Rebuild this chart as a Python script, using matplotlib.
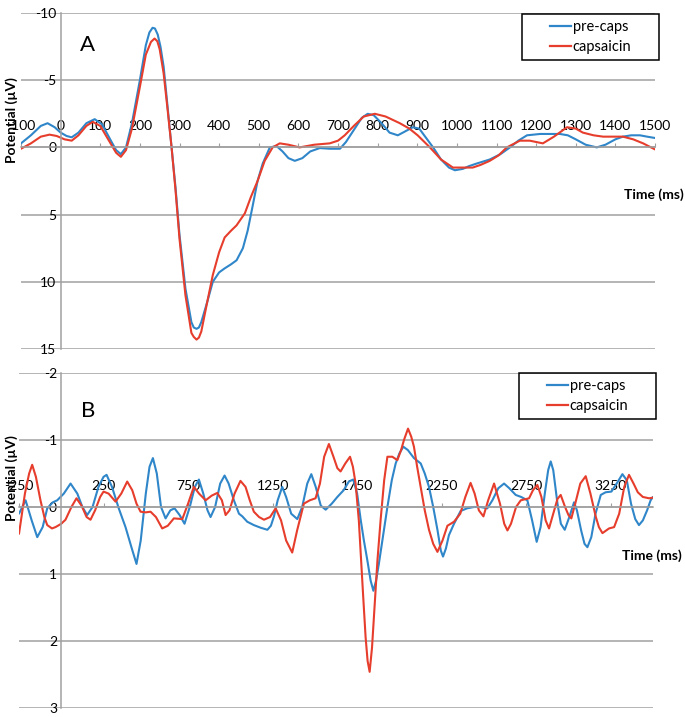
import matplotlib
matplotlib.use("Agg")
import matplotlib.pyplot as plt
from matplotlib.patches import Rectangle
from matplotlib.lines import Line2D

plt.rcParams['font.family'] = ['Lato', 'DejaVu Sans']
plt.rcParams['axes.unicode_minus'] = False

BLUE = '#2f86c9'
RED = '#e63d2c'
GRID = '#a0a0a0'

# panel A: time (ms) / potential (uV), negative plotted upwards
a_pre_t = [-100, -75, -50, -33, -15, 0, 15, 28, 45, 65, 86, 105, 125, 140, 152, 165, 180, 200, 215, 224,
           232, 238, 245, 252, 260, 270, 280, 290, 300, 315, 330, 336, 343, 349, 355, 370, 384, 400, 414,
           430, 444, 460, 472, 485, 497, 510, 528, 545, 560, 575, 591, 610, 630, 654, 680, 705, 720, 740,
           760, 775, 790, 810, 830, 851, 870, 889, 905, 920, 940, 960, 980, 995, 1015, 1030, 1050, 1083,
           1110, 1134, 1155, 1177, 1210, 1240, 1260, 1280, 1300, 1325, 1353, 1375, 1400, 1419, 1440, 1462,
           1480, 1500]
a_pre = [-0.3, -0.9, -1.6, -1.8, -1.5, -1.1, -0.85, -0.75, -1.1, -1.8, -2.1, -1.7, -0.6, 0.2, 0.5, 0.0,
         -1.8, -5.0, -7.6, -8.55, -8.9, -8.85, -8.4, -7.5, -6.0, -3.0, 0.0, 3.0, 6.5, 10.5, 13.0, 13.4,
         13.5, 13.4, 13.0, 11.5, 10.0, 9.3, 9.0, 8.7, 8.4, 7.5, 6.2, 4.3, 2.5, 1.2, 0.0, -0.1, 0.3, 0.8,
         1.0, 0.8, 0.3, 0.05, 0.1, 0.1, -0.4, -1.3, -2.2, -2.5, -2.4, -1.8, -1.1, -0.9, -1.2, -1.5, -1.4,
         -0.8, 0.0, 0.9, 1.5, 1.7, 1.6, 1.4, 1.2, 0.9, 0.5, 0.0, -0.5, -0.9, -1.0, -1.0, -1.0, -0.9, -0.6,
         -0.2, 0.0, -0.2, -0.6, -0.8, -0.9, -0.9, -0.8, -0.7]

a_caps_t = [-100, -75, -50, -28, -10, 10, 28, 45, 65, 81, 100, 120, 140, 152, 165, 180, 200, 215, 228, 237,
            244, 250, 260, 270, 280, 290, 300, 315, 330, 336, 343, 349, 355, 370, 384, 400, 414, 430, 444,
            465, 480, 497, 515, 535, 553, 575, 603, 640, 679, 700, 717, 740, 765, 793, 820, 856, 880, 901,
            932, 960, 990, 1015, 1040, 1060, 1083, 1105, 1126, 1159, 1184, 1217, 1245, 1278, 1300, 1318,
            1345, 1369, 1395, 1419, 1445, 1470, 1500]
a_caps = [0.1, -0.3, -0.8, -0.95, -0.85, -0.6, -0.5, -0.9, -1.6, -1.9, -1.6, -0.6, 0.4, 0.7, 0.2, -1.4,
          -4.5, -6.9, -7.85, -8.1, -7.9, -7.3, -5.5, -2.8, 0.0, 3.2, 6.8, 11.0, 13.8, 14.1, 14.3, 14.15,
          13.7, 11.5, 9.5, 7.8, 6.7, 6.2, 5.8, 4.9, 3.7, 2.5, 1.0, 0.0, -0.3, -0.2, 0.0, -0.2, -0.3, -0.5,
          -0.9, -1.6, -2.3, -2.5, -2.3, -1.8, -1.4, -0.9, 0.0, 0.9, 1.5, 1.5, 1.5, 1.3, 1.0, 0.6, 0.0,
          -0.5, -0.5, -0.3, -0.8, -1.5, -1.4, -1.1, -0.9, -0.8, -0.8, -0.8, -0.6, -0.3, 0.15]

# panel B
b_pre_t = [-250, -211, -175, -142, -110, -83, -50, -24, 15, 55, 95, 125, 153, 185, 220, 250, 268, 300, 340,
           380, 415, 445, 470, 500, 522, 542, 565, 590, 617, 645, 670, 700, 729, 760, 790, 814, 840, 865,
           883, 910, 940, 966, 990, 1021, 1051, 1071, 1100, 1139, 1180, 1219, 1240, 1258, 1280, 1307, 1330,
           1360, 1396, 1425, 1455, 1479, 1505, 1535, 1564, 1600, 1633, 1670, 1701, 1727, 1750, 1771, 1790,
           1810, 1830, 1846, 1862, 1879, 1905, 1929, 1955, 1978, 2000, 2023, 2050, 2086, 2126, 2150, 2175,
           2200, 2225, 2245, 2258, 2275, 2293, 2323, 2362, 2400, 2441, 2480, 2520, 2550, 2585, 2619, 2650,
           2688, 2720, 2757, 2785, 2812, 2835, 2860, 2880, 2895, 2910, 2935, 2955, 2978, 3005, 3033, 3050,
           3075, 3095, 3112, 3135, 3160, 3191, 3220, 3254, 3285, 3319, 3345, 3370, 3395, 3417, 3440, 3465,
           3486, 3500]
b_pre = [0.1, -0.1, 0.2, 0.45, 0.3, 0.02, -0.07, -0.1, -0.2, -0.35, -0.2, 0.0, 0.12, 0.0, -0.3, -0.45,
         -0.48, -0.3, 0.02, 0.3, 0.6, 0.85, 0.5, -0.2, -0.6, -0.73, -0.5, 0.0, 0.17, 0.05, 0.02, 0.12, 0.25,
         0.0, -0.3, -0.41, -0.2, 0.05, 0.15, 0.0, -0.35, -0.47, -0.35, -0.1, 0.1, 0.14, 0.22, 0.27, 0.31,
         0.34, 0.28, 0.14, -0.1, -0.3, -0.15, 0.1, 0.18, 0.0, -0.35, -0.49, -0.3, -0.02, 0.04, -0.05,
         -0.15, -0.25, -0.38, -0.41, -0.2, 0.19, 0.5, 0.79, 1.1, 1.25, 1.1, 0.84, 0.4, 0.0, -0.4, -0.65,
         -0.8, -0.9, -0.85, -0.73, -0.65, -0.5, -0.3, 0.0, 0.34, 0.65, 0.74, 0.62, 0.42, 0.25, 0.06, 0.02,
         0.0, 0.0, 0.02, -0.1, -0.28, -0.35, -0.28, -0.18, -0.15, -0.1, 0.2, 0.52, 0.3, -0.2, -0.55, -0.68,
         -0.55, -0.05, 0.25, 0.34, 0.15, -0.07, 0.05, 0.35, 0.55, 0.6, 0.45, 0.1, -0.18, -0.22, -0.23,
         -0.35, -0.49, -0.4, -0.05, 0.18, 0.27, 0.2, 0.05, -0.1, -0.15]

b_caps_t = [-250, -215, -190, -172, -150, -123, -100, -83, -55, -34, 0, 25, 60, 90, 120, 150, 173, 200, 230,
            250, 280, 321, 355, 390, 420, 445, 469, 500, 528, 560, 597, 630, 666, 716, 750, 784, 815, 854,
            890, 923, 950, 972, 995, 1025, 1060, 1090, 1115, 1139, 1170, 1199, 1235, 1268, 1300, 1330, 1366,
            1395, 1435, 1470, 1504, 1530, 1555, 1583, 1610, 1633, 1652, 1680, 1708, 1725, 1741, 1760, 1771,
            1785, 1800, 1812, 1824, 1838, 1853, 1870, 1889, 1910, 1929, 1958, 1988, 2010, 2027, 2051, 2070,
            2086, 2105, 2126, 2150, 2175, 2200, 2225, 2255, 2284, 2323, 2360, 2390, 2421, 2445, 2470, 2497,
            2525, 2560, 2595, 2620, 2639, 2660, 2690, 2718, 2767, 2790, 2816, 2840, 2865, 2885, 2910, 2935,
            2954, 2980, 3000, 3017, 3040, 3070, 3102, 3130, 3161, 3180, 3201, 3240, 3270, 3300, 3330, 3358,
            3385, 3410, 3440, 3477, 3500]
b_caps = [0.4, -0.2, -0.5, -0.63, -0.45, -0.1, 0.15, 0.27, 0.32, 0.3, 0.25, 0.19, 0.0, -0.13, -0.02, 0.15,
          0.19, 0.05, -0.15, -0.23, -0.2, -0.08, -0.2, -0.38, -0.25, -0.05, 0.07, 0.08, 0.07, 0.15, 0.32,
          0.28, 0.17, 0.18, -0.05, -0.3, -0.2, -0.1, -0.17, -0.21, -0.1, 0.12, 0.05, -0.2, -0.39, -0.3,
          -0.1, 0.07, 0.15, 0.19, 0.15, 0.02, 0.2, 0.5, 0.68, 0.35, -0.05, -0.1, -0.13, -0.35, -0.75, -0.94,
          -0.75, -0.58, -0.53, -0.65, -0.75, -0.6, -0.35, 0.2, 0.69, 1.3, 1.94, 2.3, 2.46, 2.1, 1.49, 0.8,
          0.19, -0.4, -0.75, -0.75, -0.7, -0.85, -1.0, -1.17, -1.05, -0.9, -0.6, -0.3, 0.05, 0.34, 0.55,
          0.67, 0.5, 0.28, 0.22, 0.1, -0.15, -0.36, -0.2, 0.05, 0.14, -0.1, -0.35, -0.05, 0.25, 0.35, 0.25,
          0.0, -0.1, -0.13, -0.25, -0.33, -0.15, 0.2, 0.32, 0.1, -0.12, -0.18, 0.0, 0.12, 0.17, -0.05,
          -0.35, -0.46, -0.2, 0.14, 0.3, 0.39, 0.32, 0.3, 0.1, -0.3, -0.48, -0.35, -0.22, -0.15, -0.13,
          -0.14]

a_xticks = list(range(-100, 1501, 100))
a_yticks = [-10, -5, 0, 5, 10, 15]
b_xticks = [-250, 250, 750, 1250, 1750, 2250, 2750, 3250]
b_yticks = [-2, -1, 0, 1, 2, 3]
series_names = ['pre-caps', 'capsaicin']

W, H = 685, 717
fig = plt.figure(figsize=(W / 100, H / 100), dpi=100)


def px_axes(x0, y0, x1, y1):
    return fig.add_axes([x0 / W, 1 - y1 / H, (x1 - x0) / W, (y1 - y0) / H])


def style_panel(ax, xlim, ylim, xticks, yticks):
    ax.set_xlim(*xlim)
    ax.set_ylim(*ylim)
    for s in ['bottom', 'right']:
        ax.spines[s].set_visible(False)
    ax.spines['left'].set_position(('data', 0))
    ax.spines['top'].set_position(('data', 0))
    for s in ['left', 'top']:
        ax.spines[s].set_color(GRID)
        ax.spines[s].set_linewidth(1.1)
    ax.xaxis.tick_top()
    ax.set_xticks(xticks)
    ax.set_xticklabels([str(t) for t in xticks])
    ax.set_yticks(yticks)
    ax.set_yticklabels([str(t) for t in yticks])
    ax.tick_params(axis='x', direction='out', length=3, color=GRID, pad=8, labelsize=10)
    ax.tick_params(axis='y', length=0, pad=3, labelsize=10)
    ax.yaxis.grid(True, color=GRID, linewidth=1.1)
    ax.set_axisbelow(True)
    ax.patch.set_visible(False)


def legend_box(x0, y0, x1, y1):
    fig.patches.append(Rectangle((x0 / W, 1 - y1 / H), (x1 - x0) / W, (y1 - y0) / H,
                                 transform=fig.transFigure, fill=False, edgecolor='black', linewidth=1.1))
    handles = [Line2D([], [], color=BLUE, lw=1.6), Line2D([], [], color=RED, lw=1.6)]
    fig.legend(handles, series_names, loc='center', frameon=False, fontsize=10.5,
               bbox_to_anchor=((x0 + x1) / 2 / W, 1 - (y0 + y1) / 2 / H),
               handlelength=1.5, handletextpad=0.1, labelspacing=0.45, borderpad=0)


line_kw = dict(lw=1.5, solid_joinstyle='round', solid_capstyle='round')

# panel A
ax1 = px_axes(21, 13, 655, 349)
style_panel(ax1, (-100, 1500), (15, -10), a_xticks, a_yticks)
ax1.plot(a_pre_t, a_pre, color=BLUE, **line_kw)
ax1.plot(a_caps_t, a_caps, color=RED, **line_kw)
fig.text(88 / W, 1 - 45 / H, 'A', fontsize=16, ha='center', va='center')
legend_box(522, 14, 659, 60)
fig.text(684 / W, 1 - 195 / H, 'Time (ms)', fontsize=10, fontweight='bold', ha='right', va='center')
fig.text(12 / W, 1 - 120 / H, 'Potential (µV)', fontsize=10, fontweight='bold', rotation=90,
         ha='center', va='center')

# panel B
ax2 = px_axes(19, 373, 653, 708)
style_panel(ax2, (-250, 3500), (3, -2), b_xticks, b_yticks)
ax2.plot(b_pre_t, b_pre, color=BLUE, **line_kw)
ax2.plot(b_caps_t, b_caps, color=RED, **line_kw)
fig.text(88 / W, 1 - 411 / H, 'B', fontsize=16, ha='center', va='center')
legend_box(519, 373, 656, 419)
fig.text(682 / W, 1 - 556 / H, 'Time (ms)', fontsize=10, fontweight='bold', ha='right', va='center')
fig.text(12 / W, 1 - 478 / H, 'Potential (µV)', fontsize=10, fontweight='bold', rotation=90,
         ha='center', va='center')

fig.savefig('out.png', dpi=100)
